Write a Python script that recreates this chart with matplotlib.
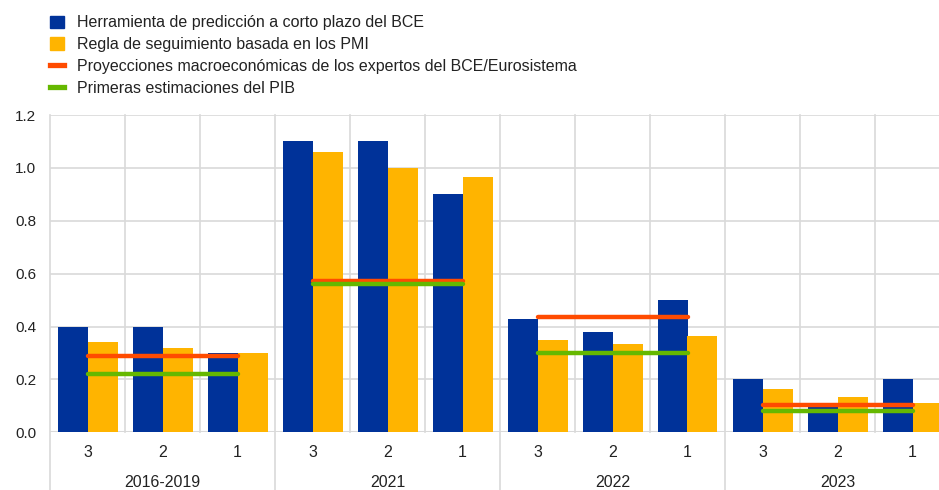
import matplotlib

matplotlib.use("Agg")
import matplotlib.pyplot as plt
from matplotlib.lines import Line2D
from matplotlib.patches import Patch
import matplotlib.transforms as mtransforms

plt.rcParams["font.family"] = ["Liberation Sans", "DejaVu Sans"]

groups = ["2016-2019", "2021", "2022", "2023"]
sub_labels = ["3", "2", "1"]

ecb_tool = [0.40, 0.40, 0.30, 1.10, 1.10, 0.90, 0.43, 0.38, 0.50, 0.20, 0.10, 0.20]
pmi_rule = [0.34, 0.32, 0.30, 1.06, 1.00, 0.965, 0.35, 0.335, 0.365, 0.165, 0.135, 0.11]
projections = [0.287, 0.572, 0.436, 0.105]
first_estimates = [0.222, 0.562, 0.299, 0.082]

legend_labels = [
    "Herramienta de predicción a corto plazo del BCE",
    "Regla de seguimiento basada en los PMI",
    "Proyecciones macroeconómicas de los expertos del BCE/Eurosistema",
    "Primeras estimaciones del PIB",
]

BLUE = "#003299"
YELLOW = "#FFB400"
ORANGE = "#FF4B00"
GREEN = "#65B800"
GRID = "#d9d9d9"
TEXT = "#222222"

fig = plt.figure(figsize=(9.39, 4.90), dpi=100)
ax = fig.add_axes([50 / 939, 1 - 432.3 / 490, 889 / 939, (432.3 - 115) / 490])

n = len(ecb_tool)
x = list(range(n))
width = 0.4
ax.bar([i - width / 2 for i in x], ecb_tool, width, color=BLUE, zorder=2)
ax.bar([i + width / 2 for i in x], pmi_rule, width, color=YELLOW, zorder=2)

# group-level lines, drawn from the first to the last sub-category centre
for g in range(len(groups)):
    x0, x1 = 3 * g, 3 * g + 2
    ax.plot([x0, x1], [projections[g]] * 2, color=ORANGE, lw=3.2,
            solid_capstyle="round", zorder=3)
    ax.plot([x0, x1], [first_estimates[g]] * 2, color=GREEN, lw=3.2,
            solid_capstyle="round", zorder=4)

ax.set_xlim(-0.5, (939 - 50) / 75 - 0.5)
ax.set_ylim(0, 1.2)
ax.set_yticks([0, 0.2, 0.4, 0.6, 0.8, 1.0, 1.2])
ax.set_yticklabels([f"{v:.1f}" for v in ax.get_yticks()])
ax.yaxis.grid(True, color=GRID, lw=1.2, zorder=0)
ax.set_axisbelow(True)
for s in ax.spines.values():
    s.set_visible(False)
ax.axhline(0, color=GRID, lw=1.5, zorder=1)

ax.set_xticks(x)
ax.set_xticklabels(sub_labels * len(groups))
ax.tick_params(axis="x", length=0, labelsize=11.5, colors=TEXT, pad=9)
ax.tick_params(axis="y", length=0, labelsize=11, colors=TEXT, pad=10)

trans = mtransforms.blended_transform_factory(ax.transData, ax.transAxes)
for b in range(n + 1):
    xb = b - 0.5
    y_low = -0.2 if b % 3 == 0 else 0
    ax.add_line(Line2D([xb, xb], [y_low, 1], color=GRID, lw=1.2,
                       transform=trans, clip_on=False, zorder=0))

for g, name in enumerate(groups):
    ax.text(3 * g + 1, -0.157, name, transform=trans, ha="center", va="center",
            fontsize=11.5, color=TEXT)

handles = [
    Patch(color=BLUE),
    Patch(color=YELLOW),
    Line2D([], [], color=ORANGE, lw=3.8),
    Line2D([], [], color=GREEN, lw=3.8),
]
leg = fig.legend(handles, legend_labels, loc="upper left",
                 bbox_to_anchor=(50 / 939, 1 - 15.5 / 490),
                 frameon=False, fontsize=11.5, handlelength=0.9, handleheight=0.85,
                 handletextpad=0.8, labelspacing=0.42, borderaxespad=0, borderpad=0)
for t in leg.get_texts():
    t.set_color(TEXT)

fig.savefig("out.png", dpi=100)
